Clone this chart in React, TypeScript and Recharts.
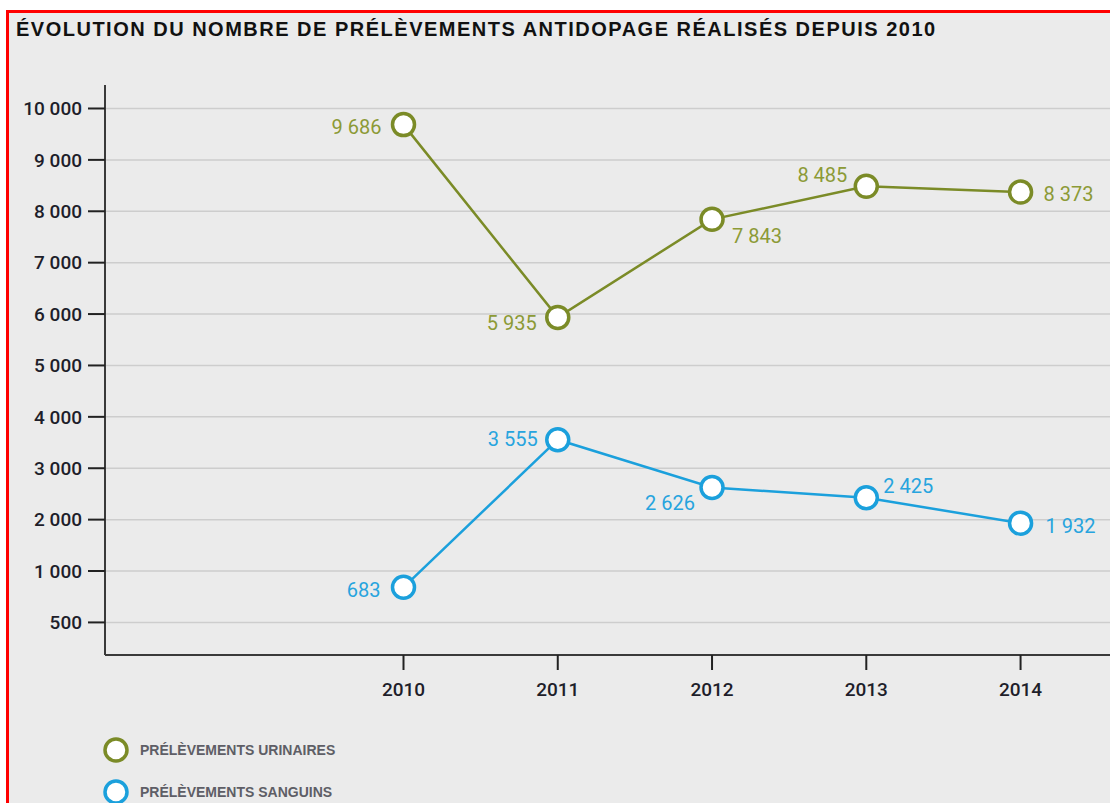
import { LineChart, Line, XAxis, YAxis, CartesianGrid, LabelList, Legend } from 'recharts';

const years = [2010, 2011, 2012, 2013, 2014];
const urinaires = [9686, 5935, 7843, 8485, 8373];
const sanguins = [683, 3555, 2626, 2425, 1932];

// tick values on the y scale and the labels printed beside them
const yTicks = [0, 1000, 2000, 3000, 4000, 5000, 6000, 7000, 8000, 9000, 10000];
const yTickLabels = ['500', '1 000', '2 000', '3 000', '4 000', '5 000', '6 000', '7 000', '8 000', '9 000', '10 000'];

const TITLE = 'ÉVOLUTION DU NOMBRE DE PRÉLÈVEMENTS ANTIDOPAGE RÉALISÉS DEPUIS 2010';

const OLIVE = '#7b8b27';
const OLIVE_TEXT = '#8c9a36';
const BLUE = '#1ba0dc';
const BLUE_TEXT = '#27a4de';

// label placement around each point: [anchor, dx, dy]
type Place = ['start' | 'end', number, number];
const urinPlaces: Place[] = [['end', -22, 2], ['end', -21, 6], ['start', 20, 17], ['end', -19, -11], ['start', 23, 2]];
const sangPlaces: Place[] = [['end', -23, 3], ['end', -20, -1], ['end', -17, 16], ['start', 17, -12], ['start', 25, 3]];

const chartData = years.map((year, i) => ({
  year,
  urinaires: urinaires[i],
  sanguins: sanguins[i],
}));

const fmt = (v: number) => String(v).replace(/\B(?=(\d{3})+(?!\d))/g, ' ');

const makeLabel = (places: Place[], color: string) => (props: any) => {
  const { x, y, value, index } = props;
  const [anchor, dx, dy] = places[index];
  return (
    <text
      x={x + dx}
      y={y + dy}
      textAnchor={anchor}
      dominantBaseline="central"
      fill={color}
      fontSize={20}
      fontFamily="Roboto, sans-serif"
      fontWeight={400}
    >
      {fmt(value)}
    </text>
  );
};

const makeDot = (color: string) => (props: any) => {
  const { cx, cy, index } = props;
  return <circle key={index} cx={cx} cy={cy} r={11} fill="#fff" stroke={color} strokeWidth={3.5} />;
};

const series = [
  { key: 'urinaires', name: 'PRÉLÈVEMENTS URINAIRES', color: OLIVE },
  { key: 'sanguins', name: 'PRÉLÈVEMENTS SANGUINS', color: BLUE },
];

const renderLegend = () => (
  <div>
    {series.map((s) => (
      <div key={s.key} style={{ display: 'flex', alignItems: 'center', height: 42 }}>
        <svg width={28} height={28}>
          <circle cx={14} cy={14} r={11} fill="#fff" stroke={s.color} strokeWidth={3.5} />
        </svg>
        <span
          style={{
            marginLeft: 10,
            fontFamily: 'Liberation Sans, Arial, sans-serif',
            fontWeight: 700,
            fontSize: 14,
            color: '#5e5e66',
          }}
        >
          {s.name}
        </span>
      </div>
    ))}
  </div>
);

export default function App() {
  return (
    <div style={{ position: 'fixed', left: 0, top: 0, width: 1110, height: 803, overflow: 'hidden', background: '#fff' }}>
      <div
        style={{
          position: 'absolute',
          left: 6,
          top: 10,
          width: 1200,
          height: 900,
          borderTop: '3px solid #ff0000',
          borderLeft: '3px solid #ff0000',
          background: '#ebebeb',
        }}
      />
      <div
        style={{
          position: 'absolute',
          left: 16,
          top: 19,
          fontFamily: 'Liberation Sans, Arial, sans-serif',
          fontWeight: 700,
          fontSize: 20,
          lineHeight: '20px',
          color: '#111',
          whiteSpace: 'nowrap',
          letterSpacing: 1.5,
        }}
      >
        {TITLE}
      </div>
      <div style={{ position: 'absolute', left: 0, top: 0 }}>
        <LineChart width={1130} height={803} data={chartData} margin={{ top: 85, right: 5, bottom: 108, left: 0 }}>
          <CartesianGrid horizontal vertical={false} stroke="#cdcdcd" strokeWidth={1.5} horizontalValues={yTicks} />
          <XAxis
            dataKey="year"
            type="number"
            domain={[2008.065, 2014.677]}
            ticks={years}
            height={40}
            tickSize={15}
            tickMargin={13}
            axisLine={{ stroke: '#3a3a3a', strokeWidth: 2 }}
            tickLine={{ stroke: '#222', strokeWidth: 2 }}
            tick={{ fill: '#1e1e2a', fontSize: 19, fontFamily: 'Roboto, sans-serif', fontWeight: 500 }}
          />
          <YAxis
            type="number"
            domain={[-634, 10457]}
            ticks={yTicks}
            width={105}
            tickSize={17}
            tickMargin={6}
            axisLine={{ stroke: '#3a3a3a', strokeWidth: 2 }}
            tickLine={{ stroke: '#222', strokeWidth: 2 }}
            tick={{ fill: '#1e1e2a', fontSize: 19, fontFamily: 'Roboto, sans-serif', fontWeight: 500 }}
            tickFormatter={(v: number) => yTickLabels[yTicks.indexOf(v)]}
          />
          <Legend
            layout="horizontal"
            verticalAlign="middle"
            align="center"
            content={renderLegend}
            wrapperStyle={{ left: 102, top: 729, width: 400 }}
          />
          <Line
            dataKey="urinaires"
            stroke={OLIVE}
            strokeWidth={2.5}
            dot={makeDot(OLIVE)}
            activeDot={false}
            isAnimationActive={false}
          >
            <LabelList dataKey="urinaires" content={makeLabel(urinPlaces, OLIVE_TEXT)} />
          </Line>
          <Line
            dataKey="sanguins"
            stroke={BLUE}
            strokeWidth={2.5}
            dot={makeDot(BLUE)}
            activeDot={false}
            isAnimationActive={false}
          >
            <LabelList dataKey="sanguins" content={makeLabel(sangPlaces, BLUE_TEXT)} />
          </Line>
        </LineChart>
      </div>
    </div>
  );
}
